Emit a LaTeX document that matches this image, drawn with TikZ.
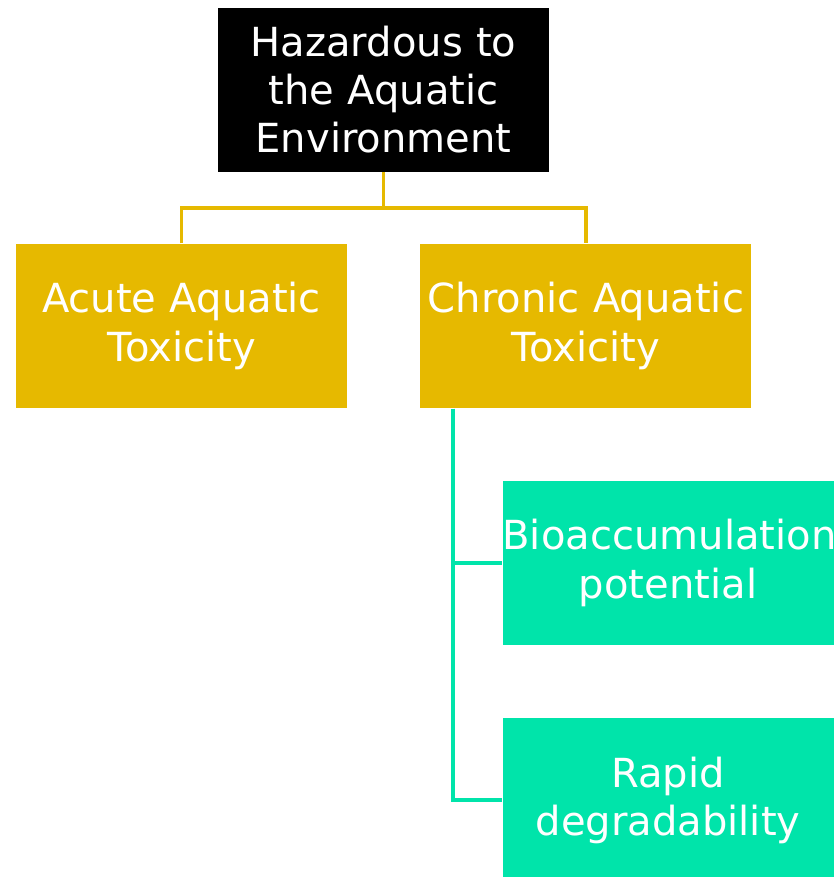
\documentclass[tikz,border=0pt]{standalone}
\usepackage{fontspec}
\setmainfont{DejaVu Sans}
\usetikzlibrary{positioning}
\definecolor{hazyellow}{RGB}{230,185,0}
\definecolor{hazteal}{RGB}{0,228,170}
\tikzset{
	box/.style={text width=3.31cm, minimum height=1.64cm, inner sep=0pt, align=center, text=white, font=\fontsize{11.4}{13.7}\selectfont},
	topbox/.style={box, fill=black},
	yelbox/.style={box, fill=hazyellow},
	tealbox/.style={box, fill=hazteal},
	link/.style={line width=1.1pt},
}
\begin{document}
\begin{tikzpicture}
		\useasboundingbox (0,0) rectangle (8.35,-8.77);
		\node(hazard) [topbox] at (3.835,-0.895) {Hazardous to\\the Aquatic\\Environment};
		
		\node(acute) [yelbox] at (1.815,-3.26) {Acute Aquatic\\Toxicity};
		\node(chronic) [yelbox, right=0.72cm of acute] {Chronic Aquatic\\Toxicity};
		
		\node(bioacc) [tealbox] at (6.68,-5.63) {Bioaccumulation\\potential};
		\node(rapid) [tealbox, below=0.72cm of bioacc] {Rapid\\degradability};
		
		\draw[hazyellow, link] (hazard.south) -- ++(0,-0.36) coordinate (fork);
		\draw[hazyellow, link] (acute.north) |- (fork) -| (chronic.north);
		
		\coordinate (trunk) at ([xshift=0.33cm]chronic.south west);
		\draw[hazteal, link] (trunk) |- (bioacc.west);
		\draw[hazteal, link] (trunk) |- (rapid.west);
\end{tikzpicture}
\end{document}
